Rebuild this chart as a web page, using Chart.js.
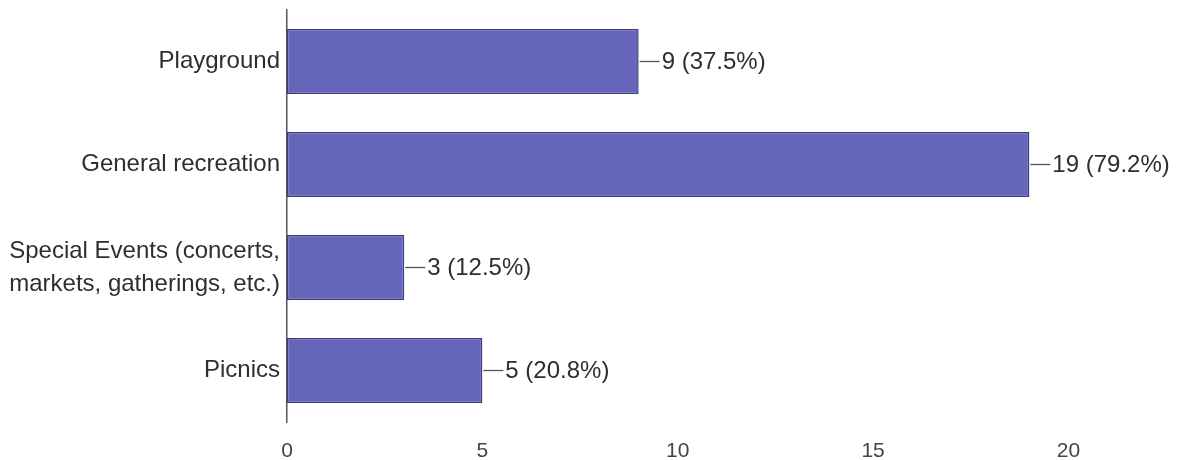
<!DOCTYPE html>
<html>
<head>
<meta charset="utf-8">
<script src="https://cdn.jsdelivr.net/npm/chart.js@4"></script>
<style>
  html, body { margin: 0; padding: 0; background: #fff; }
  #wrap { width: 1178px; height: 460px; }
</style>
</head>
<body>
<div id="wrap"><canvas id="barChart"></canvas></div>
<script>
// Chart data
const categories = [
    'Playground',
    'General recreation',
    ['Special Events (concerts,', 'markets, gatherings, etc.)'],
    'Picnics'
];
const counts = [9, 19, 3, 5];
const percents = ['37.5%', '79.2%', '12.5%', '20.8%'];
const xTicks = [0, 5, 10, 15, 20];

const FONT = 'Liberation Sans, Arial, sans-serif';

// Leader line + "n (p%)" label at the end of each bar
const valueLabels = {
    id: 'valueLabels',
    afterDatasetsDraw(chart) {
        const ctx = chart.ctx;
        const meta = chart.getDatasetMeta(0);
        ctx.save();
        ctx.font = '24px ' + FONT;
        ctx.textBaseline = 'middle';
        meta.data.forEach((bar, i) => {
            ctx.strokeStyle = '#555';
            ctx.lineWidth = 1.3;
            ctx.beginPath();
            ctx.moveTo(bar.x + 1, bar.y);
            ctx.lineTo(bar.x + 21, bar.y);
            ctx.stroke();
            ctx.fillStyle = '#2e2e2e';
            ctx.fillText(counts[i] + ' (' + percents[i] + ')', bar.x + 23, bar.y + 1);
        });
        ctx.restore();
    }
};

const ctx = document.getElementById('barChart').getContext('2d');
new Chart(ctx, {
    type: 'bar',
    data: {
        labels: categories,
        datasets: [{
            data: counts,
            backgroundColor: 'rgb(101, 101, 186)',
            borderColor: 'rgb(58, 58, 128)',
            borderWidth: 1.5,
            borderSkipped: false,
            categoryPercentage: 1,
            barPercentage: 0.63
        }]
    },
    options: {
        indexAxis: 'y',
        responsive: true,
        maintainAspectRatio: false,
        animation: false,
        layout: { padding: { top: 10, right: 8, left: 0, bottom: 0 } },
        plugins: {
            legend: { display: false },
            tooltip: { enabled: false }
        },
        scales: {
            x: {
                min: 0,
                max: 22.6,
                grid: { display: false, drawTicks: false },
                border: { display: false },
                afterBuildTicks: scale => {
                    scale.ticks = xTicks.map(v => ({ value: v }));
                },
                afterFit: scale => { scale.height = 38; },
                ticks: {
                    padding: 17,
                    color: '#444',
                    font: { size: 21, family: FONT }
                }
            },
            y: {
                grid: { display: false, drawTicks: false },
                border: { display: true, color: '#555', width: 1.5 },
                afterFit: scale => {
                    scale.width = 287;
                    scale.paddingTop = 0;
                    scale.paddingBottom = 0;
                },
                ticks: {
                    padding: 7,
                    color: '#2e2e2e',
                    font: { size: 24, family: FONT, lineHeight: 1.38 }
                }
            }
        }
    },
    plugins: [valueLabels]
});
</script>
</body>
</html>
